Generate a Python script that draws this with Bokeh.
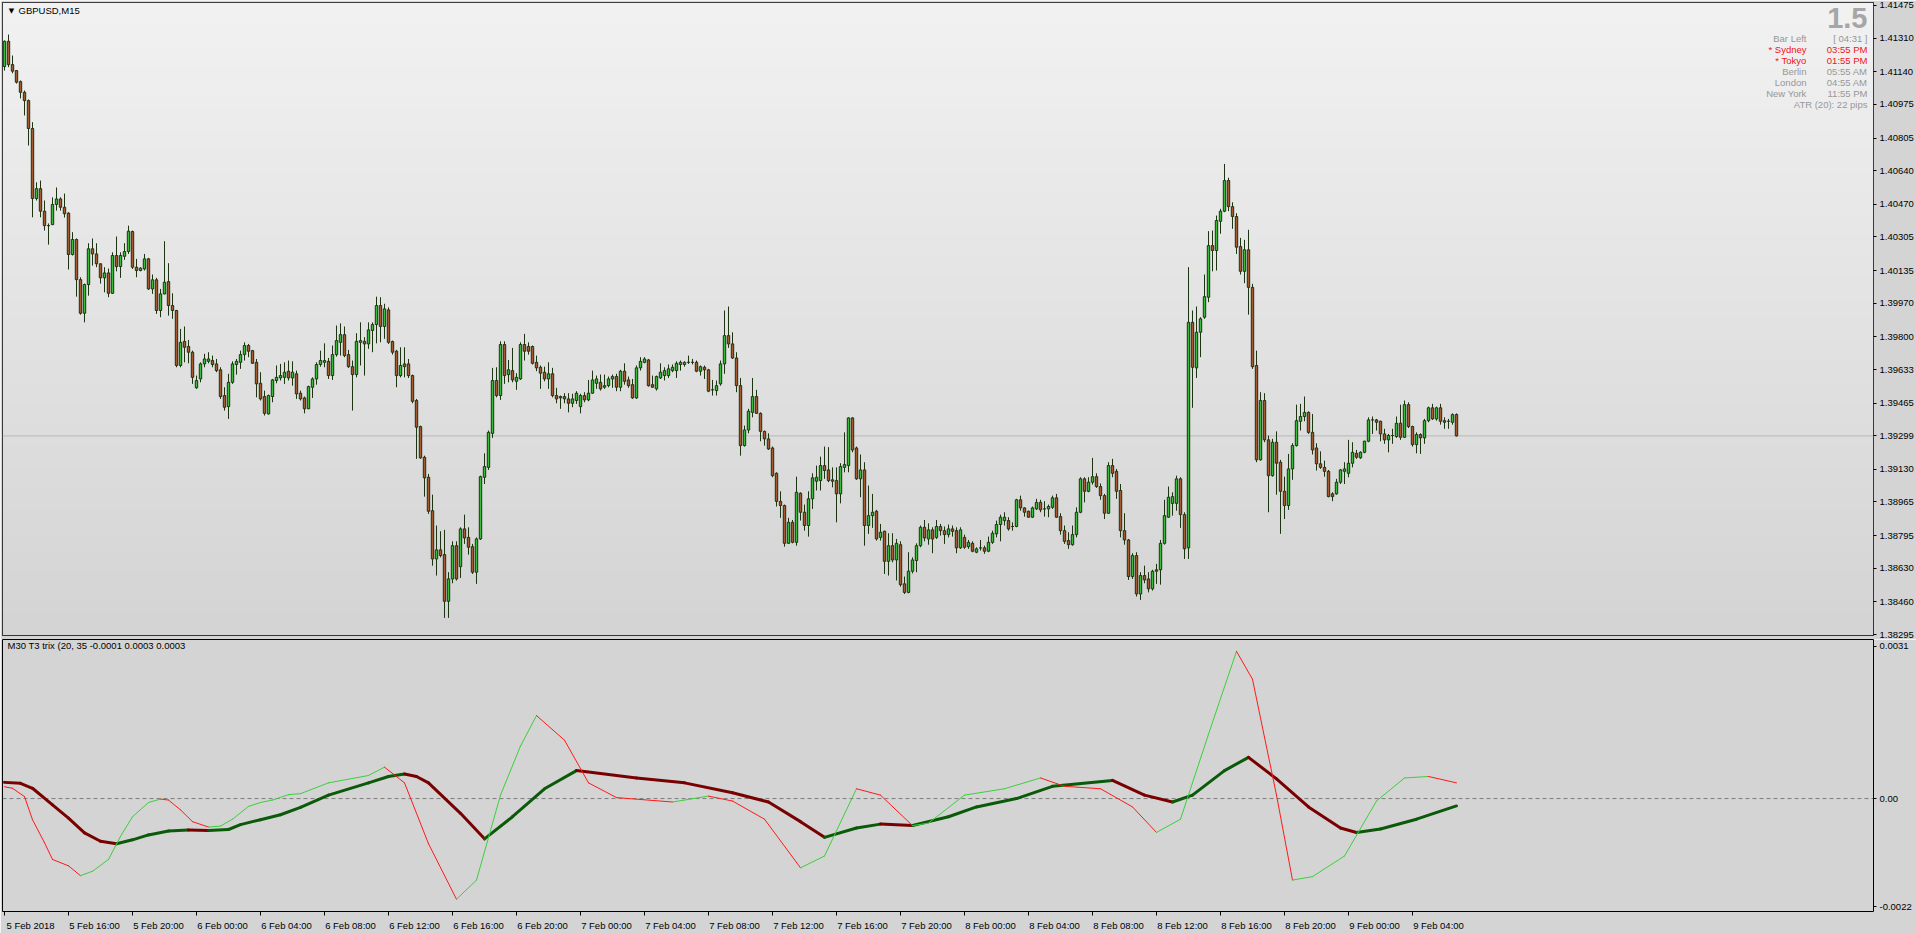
import numpy as np
from bokeh.plotting import figure
from bokeh.layouts import column
from bokeh.models import (LinearAxis, FixedTicker, Span, Label, ColumnDataSource,
                          Range1d, PrintfTickFormatter)
from bokeh.embed import file_html
from bokeh.resources import INLINE

# ---------------- texts ----------------
symbol_title = "GBPUSD,M15"
indicator_title = "M30 T3 trix (20, 35 -0.0001 0.0003 0.0003"
big_number = "1.5"
info_names = ["Bar Left", "* Sydney", "* Tokyo", "Berlin", "London", "New York"]
info_values = ["[ 04:31 ]", "03:55 PM", "01:55 PM", "05:55 AM", "04:55 AM", "11:55 PM"]
info_is_red = [False, True, True, False, False, False]
atr_text = "ATR (20): 22 pips"

time_tick_bars = [0, 16, 32, 48, 64, 80, 96, 112, 128, 144, 160, 176, 192, 208, 224,
                  240, 256, 272, 288, 304, 320, 336, 352]
time_tick_labels = ["5 Feb 2018", "5 Feb 16:00", "5 Feb 20:00", "6 Feb 00:00", "6 Feb 04:00",
                    "6 Feb 08:00", "6 Feb 12:00", "6 Feb 16:00", "6 Feb 20:00", "7 Feb 00:00",
                    "7 Feb 04:00", "7 Feb 08:00", "7 Feb 12:00", "7 Feb 16:00", "7 Feb 20:00",
                    "8 Feb 00:00", "8 Feb 04:00", "8 Feb 08:00", "8 Feb 12:00", "8 Feb 16:00",
                    "8 Feb 20:00", "9 Feb 00:00", "9 Feb 04:00"]
price_tick_labels = ["1.41475", "1.41310", "1.41140", "1.40975", "1.40805", "1.40640", "1.40470",
                     "1.40305", "1.40135", "1.39970", "1.39800", "1.39633", "1.39465", "1.39130",
                     "1.38965", "1.38795", "1.38630", "1.38460", "1.38295"]
trix_tick_values = [0.0031, 0.0, -0.0022]
trix_tick_labels = ["0.0031", "0.00", "-0.0022"]

# ---------------- candle data: price in pips above 1.38000 ----------------
PRICE_BASE = 1.38
open_pips = [
    316.6, 329.4, 317.6, 314.6, 309.0, 303.6, 299.4, 285.3, 249.9, 254.9,
    243.5, 236.2, 236.7, 246.9, 249.7, 245.5, 242.5, 221.6, 229.2, 208.9,
    191.9, 206.4, 224.5, 221.9, 216.9, 209.8, 212.3, 202.0, 221.1, 215.5,
    220.7, 223.1, 233.2, 215.2, 213.5, 214.3, 219.4, 204.2, 208.8, 193.3,
    201.7, 207.9, 195.8, 193.3, 165.5, 177.7, 175.1, 172.2, 154.2, 158.7,
    166.3, 167.6, 168.0, 166.3, 163.3, 150.3, 144.7, 157.0, 166.0, 167.1,
    171.0, 175.6, 173.0, 167.1, 156.5, 149.8, 141.0, 149.8, 157.9, 159.2,
    159.5, 162.6, 159.2, 161.3, 151.5, 149.1, 143.6, 154.5, 158.7, 166.0,
    167.1, 167.6, 160.4, 171.0, 177.2, 181.1, 171.0, 164.9, 160.9, 177.2,
    177.7, 176.4, 183.2, 186.2, 195.8, 185.2, 193.6, 177.6, 172.7, 160.4,
    166.3, 166.3, 160.4, 147.8, 134.6, 119.1, 109.0, 92.1, 67.7, 72.3,
    69.9, 46.3, 57.6, 74.4, 63.8, 82.9, 78.6, 73.9, 61.0, 77.8,
    109.0, 114.0, 131.2, 157.9, 150.3, 176.1, 160.9, 162.9, 157.5, 158.7,
    176.1, 175.1, 175.1, 167.1, 164.6, 162.1, 158.7, 161.3, 150.3, 149.8,
    149.8, 148.6, 146.4, 147.8, 144.7, 150.3, 148.1, 151.5, 156.5, 157.0,
    154.5, 155.3, 158.7, 159.9, 154.5, 162.6, 158.2, 155.8, 149.1, 164.3,
    167.1, 168.3, 155.8, 153.7, 159.2, 160.4, 160.4, 162.9, 162.9, 166.0,
    166.0, 167.1, 167.1, 167.1, 162.6, 164.6, 163.3, 153.2, 152.8, 156.2,
    166.3, 180.6, 176.4, 169.3, 155.3, 125.0, 132.9, 141.8, 149.8, 141.3,
    132.2, 128.4, 123.8, 111.0, 96.8, 94.7, 75.6, 86.2, 76.1, 100.9,
    91.3, 84.6, 98.1, 107.0, 107.3, 114.9, 112.7, 107.7, 107.3, 100.6,
    114.0, 114.9, 139.0, 123.8, 108.2, 112.7, 84.6, 89.6, 91.8, 78.6,
    81.7, 66.5, 74.4, 67.2, 74.9, 55.1, 50.8, 61.5, 66.9, 74.4,
    83.7, 77.8, 82.4, 78.6, 84.1, 82.0, 80.0, 82.9, 82.0, 73.3,
    78.6, 73.9, 75.6, 71.1, 73.3, 73.3, 71.6, 76.1, 80.4, 85.1,
    87.1, 87.1, 84.1, 84.1, 97.6, 93.5, 91.8, 88.8, 93.0, 96.3,
    93.0, 93.0, 93.8, 98.6, 89.1, 82.0, 77.0, 74.9, 80.0, 91.3,
    108.2, 101.9, 106.5, 109.3, 104.3, 99.7, 90.8, 114.9, 112.0, 102.3,
    82.0, 77.3, 58.8, 69.4, 50.0, 59.3, 57.6, 52.6, 62.2, 62.2,
    75.6, 88.8, 95.8, 95.8, 108.2, 90.1, 73.3, 187.3, 164.3, 182.3,
    189.9, 200.0, 226.1, 223.6, 238.4, 243.5, 259.0, 245.8, 240.8, 225.6,
    213.1, 224.0, 205.0, 165.5, 117.8, 147.8, 127.9, 109.8, 126.7, 116.6,
    101.9, 94.7, 113.2, 125.0, 137.3, 139.7, 141.8, 131.7, 123.8, 115.8,
    114.0, 112.0, 100.6, 100.6, 106.5, 112.0, 111.0, 116.1, 121.1, 118.8,
    121.6, 127.2, 138.0, 138.0, 137.3, 130.9, 127.9, 130.1, 129.6, 136.3,
    129.2, 145.7, 134.6, 125.5, 130.6, 128.9, 137.6, 144.1, 138.5, 144.1,
    137.6, 137.3, 136.8, 140.7]
high_pips = [
    329.8, 332.8, 322.2, 314.6, 309.6, 304.5, 300.0, 288.5, 258.1, 259.0,
    248.9, 237.3, 250.5, 255.5, 250.5, 252.4, 243.0, 232.9, 229.7, 210.1,
    206.9, 227.3, 229.7, 227.3, 217.0, 215.2, 214.5, 222.7, 230.7, 222.7,
    227.3, 236.2, 233.7, 219.4, 215.2, 221.9, 219.9, 211.5, 209.8, 204.2,
    228.3, 217.2, 202.0, 193.6, 184.0, 185.2, 178.4, 173.0, 160.4, 167.1,
    171.4, 172.2, 170.5, 168.8, 164.6, 154.5, 161.3, 167.6, 168.8, 173.0,
    177.2, 176.4, 173.4, 168.8, 162.1, 152.8, 150.8, 158.7, 165.5, 166.3,
    167.1, 168.0, 167.6, 162.9, 152.8, 149.8, 155.3, 159.5, 167.1, 173.0,
    176.7, 169.3, 175.6, 185.7, 186.8, 185.2, 173.4, 168.0, 181.8, 187.3,
    179.8, 187.3, 187.3, 200.3, 200.0, 196.7, 194.9, 178.1, 173.4, 174.7,
    174.7, 168.8, 160.9, 148.6, 135.1, 119.9, 110.7, 100.2, 84.6, 81.7,
    82.4, 61.0, 76.6, 76.6, 83.7, 90.1, 83.7, 75.3, 78.6, 109.8,
    121.1, 132.6, 164.3, 164.6, 177.7, 177.7, 168.3, 174.4, 161.6, 177.2,
    181.5, 177.2, 175.6, 170.5, 165.5, 164.9, 167.1, 164.3, 154.2, 150.3,
    151.5, 151.5, 151.2, 152.5, 151.2, 152.0, 158.2, 162.9, 160.4, 160.9,
    160.9, 159.9, 160.9, 161.3, 163.3, 166.6, 159.9, 158.7, 165.5, 169.7,
    169.7, 168.8, 160.4, 160.4, 166.6, 164.6, 166.0, 166.0, 167.6, 168.0,
    167.6, 170.5, 168.8, 168.0, 165.5, 165.5, 163.8, 158.2, 157.9, 168.0,
    193.3, 195.3, 182.3, 172.2, 159.2, 135.1, 143.6, 159.2, 153.2, 141.8,
    132.6, 131.2, 124.5, 111.5, 101.9, 95.2, 88.5, 87.4, 109.3, 101.4,
    95.2, 101.9, 111.0, 114.9, 119.4, 124.5, 124.2, 114.0, 114.0, 116.1,
    131.7, 139.3, 139.3, 124.5, 120.5, 116.6, 104.8, 100.6, 92.5, 85.4,
    82.0, 80.7, 80.7, 77.8, 76.6, 58.8, 71.1, 68.5, 75.6, 84.6,
    87.4, 85.7, 83.7, 87.4, 85.4, 84.1, 85.1, 84.6, 83.7, 83.7,
    80.0, 77.3, 76.6, 73.6, 77.3, 74.4, 79.0, 82.0, 87.1, 90.1,
    91.3, 88.8, 86.2, 98.1, 99.7, 93.8, 92.1, 94.2, 98.1, 97.6,
    96.9, 95.2, 99.7, 100.6, 90.8, 84.6, 81.2, 84.6, 93.8, 109.0,
    109.0, 109.0, 118.8, 111.0, 105.9, 100.6, 116.6, 118.3, 113.2, 105.6,
    90.8, 77.8, 70.6, 71.1, 61.0, 64.3, 61.0, 62.2, 65.2, 77.3,
    97.6, 104.3, 101.4, 109.8, 109.0, 91.3, 215.2, 193.3, 195.3, 189.9,
    211.5, 233.4, 233.7, 241.3, 244.7, 267.4, 260.4, 248.0, 242.5, 230.0,
    229.0, 234.1, 206.8, 173.0, 152.0, 151.5, 130.1, 128.4, 132.2, 117.8,
    109.3, 120.8, 126.2, 145.7, 146.1, 149.8, 142.3, 141.0, 126.2, 122.1,
    117.4, 112.7, 101.4, 108.2, 113.2, 116.6, 127.9, 126.7, 122.8, 122.1,
    127.5, 139.3, 139.7, 138.5, 137.6, 133.5, 130.9, 133.5, 139.7, 145.7,
    147.8, 146.9, 135.1, 131.7, 131.2, 138.5, 144.7, 146.1, 144.7, 146.1,
    139.3, 138.5, 141.3, 141.3]
low_pips = [
    314.6, 316.3, 313.2, 308.0, 300.5, 291.9, 276.7, 240.4, 248.9, 240.4,
    233.7, 226.6, 236.7, 243.8, 243.8, 240.3, 214.0, 221.1, 200.3, 191.2,
    187.3, 200.8, 216.0, 215.2, 206.9, 202.5, 200.0, 201.7, 213.1, 209.8,
    218.9, 221.9, 214.3, 210.1, 213.1, 213.5, 203.7, 201.7, 191.6, 189.9,
    201.4, 190.7, 189.1, 164.6, 164.6, 167.1, 166.6, 156.2, 153.7, 157.0,
    164.6, 166.6, 164.6, 162.1, 148.6, 142.7, 138.5, 156.2, 160.9, 163.8,
    168.0, 169.7, 166.3, 149.4, 147.8, 140.2, 140.7, 146.9, 156.5, 157.9,
    156.2, 157.9, 155.3, 148.6, 147.8, 141.3, 143.6, 149.1, 155.8, 164.9,
    164.6, 158.7, 158.2, 170.0, 170.5, 169.7, 164.3, 142.7, 159.5, 165.5,
    160.4, 173.9, 172.2, 176.7, 177.2, 179.0, 176.4, 171.0, 154.5, 159.5,
    159.5, 159.2, 146.4, 118.3, 118.3, 99.2, 90.5, 64.3, 59.3, 68.5,
    37.9, 37.9, 55.4, 56.8, 58.1, 75.3, 69.9, 60.1, 55.1, 77.3,
    105.6, 112.7, 128.9, 149.4, 148.1, 156.2, 157.0, 157.0, 153.2, 158.2,
    168.0, 171.0, 166.0, 162.6, 153.7, 157.5, 153.7, 149.4, 146.4, 143.6,
    146.4, 141.8, 144.4, 146.1, 141.3, 146.9, 147.4, 151.2, 153.7, 152.8,
    153.7, 154.5, 154.2, 152.5, 152.5, 155.8, 154.2, 148.6, 148.6, 162.9,
    166.6, 154.8, 154.2, 152.8, 158.7, 157.9, 159.2, 162.1, 159.2, 162.9,
    164.9, 166.3, 166.0, 162.1, 160.4, 158.7, 152.0, 150.3, 150.3, 155.3,
    161.3, 174.4, 168.8, 152.0, 119.9, 124.5, 131.2, 139.3, 141.0, 127.2,
    125.0, 122.8, 109.0, 94.2, 88.5, 73.9, 75.3, 75.6, 74.4, 87.1,
    82.0, 79.0, 93.0, 102.3, 102.3, 108.2, 106.5, 103.9, 86.2, 95.8,
    111.5, 111.5, 121.6, 107.7, 98.9, 74.4, 80.4, 83.4, 77.0, 77.0,
    60.1, 59.3, 66.0, 56.8, 53.7, 50.0, 50.3, 60.4, 61.0, 73.6,
    76.6, 74.9, 70.6, 77.8, 79.5, 75.3, 78.6, 79.0, 70.6, 72.8,
    72.8, 72.8, 71.1, 70.6, 71.9, 70.3, 71.1, 75.3, 78.6, 76.6,
    84.6, 82.0, 82.0, 83.7, 92.1, 89.1, 88.5, 88.5, 92.5, 91.3,
    89.1, 88.8, 93.0, 88.5, 80.0, 75.3, 72.8, 74.4, 78.6, 90.8,
    96.3, 101.4, 105.3, 103.6, 97.6, 87.9, 90.5, 109.0, 98.1, 78.6,
    74.9, 57.1, 57.6, 48.7, 47.0, 55.4, 50.8, 51.7, 55.1, 54.7,
    74.9, 88.5, 89.6, 92.1, 83.4, 67.7, 67.7, 144.1, 159.2, 169.7,
    189.1, 197.5, 213.1, 213.5, 232.1, 243.0, 243.5, 234.6, 221.9, 211.5,
    207.1, 191.2, 163.8, 116.6, 117.4, 126.7, 91.3, 109.3, 100.2, 80.4,
    87.9, 92.5, 107.7, 124.5, 132.6, 137.3, 130.9, 120.5, 112.4, 113.2,
    109.3, 98.9, 96.9, 100.2, 105.6, 105.6, 109.0, 114.0, 118.3, 118.3,
    121.1, 126.7, 130.9, 132.6, 127.2, 125.9, 121.6, 125.9, 128.9, 127.9,
    128.9, 133.9, 124.5, 121.1, 120.8, 125.9, 136.8, 138.0, 137.6, 135.6,
    133.5, 133.5, 135.6, 129.6]
close_pips = [
    329.4, 317.6, 314.3, 308.7, 303.6, 299.4, 285.3, 249.9, 254.9, 243.5,
    236.2, 236.2, 246.9, 249.7, 245.5, 242.2, 221.6, 229.2, 208.9, 191.9,
    206.4, 224.5, 221.9, 216.9, 209.8, 212.3, 202.0, 221.1, 215.5, 221.1,
    223.1, 233.4, 215.2, 213.5, 214.7, 219.4, 204.2, 208.8, 193.3, 201.7,
    207.6, 195.8, 193.3, 165.5, 177.2, 174.7, 172.2, 159.5, 157.9, 166.3,
    168.8, 168.8, 166.0, 162.9, 149.8, 144.4, 157.0, 166.3, 167.6, 171.0,
    175.6, 172.7, 166.6, 156.2, 148.6, 141.3, 150.3, 158.2, 159.5, 160.4,
    162.1, 159.2, 162.1, 151.1, 148.6, 143.6, 154.8, 158.7, 166.0, 168.0,
    168.0, 160.4, 171.0, 178.1, 181.1, 170.5, 164.9, 160.9, 177.7, 178.1,
    176.4, 183.5, 186.2, 195.8, 185.2, 194.1, 177.2, 172.2, 160.4, 165.5,
    164.9, 160.4, 147.4, 134.3, 118.8, 108.7, 91.8, 67.7, 72.3, 69.4,
    46.3, 57.6, 74.4, 57.6, 82.9, 78.3, 73.6, 61.0, 77.8, 109.3,
    114.4, 131.7, 157.9, 150.3, 176.1, 160.4, 163.3, 158.2, 159.5, 176.1,
    172.7, 172.7, 166.6, 164.3, 161.6, 158.7, 161.3, 150.3, 148.6, 149.1,
    148.6, 146.4, 148.6, 151.5, 150.3, 148.1, 151.5, 158.2, 158.7, 153.7,
    155.3, 158.7, 159.9, 154.5, 162.6, 157.5, 155.3, 149.1, 164.3, 167.6,
    168.8, 155.3, 154.5, 159.9, 162.1, 162.9, 163.8, 164.6, 166.6, 167.1,
    167.1, 167.1, 167.1, 162.6, 164.9, 163.3, 152.5, 153.2, 155.3, 166.3,
    180.6, 176.4, 169.3, 155.3, 125.0, 132.9, 142.4, 149.8, 141.3, 132.2,
    128.4, 123.3, 109.8, 96.8, 94.7, 75.6, 86.2, 76.1, 101.4, 91.3,
    84.6, 98.1, 108.7, 109.0, 114.9, 112.4, 107.3, 107.0, 100.6, 114.4,
    115.4, 139.0, 122.8, 108.2, 112.7, 84.6, 89.6, 91.3, 77.8, 81.2,
    66.5, 74.4, 67.2, 75.6, 54.7, 50.8, 61.5, 67.2, 74.4, 83.7,
    78.3, 82.4, 77.8, 84.1, 82.0, 80.0, 82.9, 81.7, 73.3, 82.4,
    73.6, 76.1, 71.6, 72.8, 73.3, 71.6, 76.1, 80.7, 85.1, 88.8,
    88.8, 82.9, 84.1, 97.6, 93.5, 91.3, 88.8, 93.5, 96.3, 92.5,
    93.0, 94.2, 98.6, 88.8, 82.0, 76.6, 74.9, 80.0, 91.3, 108.2,
    101.9, 106.5, 109.3, 104.3, 99.7, 90.8, 114.9, 111.0, 101.9, 82.0,
    77.3, 58.8, 69.4, 50.0, 59.3, 57.1, 52.6, 61.5, 61.5, 75.6,
    89.6, 98.9, 99.2, 108.2, 90.1, 72.8, 187.3, 164.6, 182.3, 189.1,
    200.3, 226.1, 223.6, 238.8, 243.5, 259.0, 245.8, 240.8, 225.3, 213.1,
    224.0, 205.0, 164.9, 117.8, 147.8, 127.9, 109.8, 126.7, 116.1, 101.9,
    94.7, 113.2, 125.0, 137.6, 139.7, 141.8, 131.7, 122.8, 115.8, 114.0,
    112.0, 99.2, 99.2, 106.5, 112.7, 113.2, 116.1, 121.6, 119.1, 121.6,
    127.2, 138.0, 138.0, 136.8, 130.9, 127.9, 130.1, 130.1, 136.3, 129.2,
    145.7, 134.6, 125.5, 130.6, 128.9, 137.6, 144.1, 138.5, 144.1, 137.3,
    136.8, 137.3, 140.7, 129.9]

# ---------------- indicator data (units of 0.0001) ----------------
trix_fast_bars = [0, 2, 5, 7, 10, 12, 16, 19, 22, 26, 29, 32, 36, 39, 41, 44, 47, 51, 54, 57,
                  61, 64, 67, 71, 74, 81, 91, 95, 100, 106, 113, 118, 124, 129, 133, 140, 146, 153, 167, 176,
                  182, 190, 199, 205, 213, 219, 227, 231, 240, 250, 259, 265, 274, 282, 288, 294, 301, 308, 312, 318,
                  322, 327, 335, 343, 350, 356, 363]
trix_fast_e4 = [2.4, 2.1, 0.4, -4.3, -9.0, -12.4, -13.7, -15.7, -14.8, -12.4,
                -7.7, -3.7, -0.8, -0.1, -0.3, -2.3, -4.7, -5.8, -5.6, -4.2,
                -1.6, -0.8, -0.3, 0.8, 1.0, 3.2, 4.7, 6.4, 3.2, -9.2,
                -20.5, -16.6, 0.7, 10.7, 16.9, 11.9, 3.2, 0.2, -0.7, 0.5,
                -0.5, -4.2, -14.1, -11.7, 2.0, 0.7, -5.5, -5.0, 0.7, 2.0,
                4.2, 2.5, 2.0, -1.7, -6.9, -4.2, 13.1, 30.0, 24.3, 0.7,
                -16.6, -15.9, -11.7, -0.5, 4.2, 4.5, 3.2]
trix_slow_bars = [0, 4, 7, 12, 16, 20, 24, 28, 32, 36, 41, 46, 51, 56, 59, 64, 69, 74, 81, 91,
                  96, 100, 103, 106, 114, 120, 127, 135, 143, 158, 170, 182, 191, 199, 205, 213, 219, 227, 236, 243,
                  253, 262, 277, 285, 292, 297, 305, 311, 318, 326, 334, 338, 344, 353, 363]
trix_slow_e4 = [3.3, 3.1, 2.1, -1.3, -4.0, -7.0, -8.7, -9.2, -8.4, -7.4,
                -6.6, -6.4, -6.5, -6.3, -5.3, -4.3, -3.3, -1.8, 0.7, 3.2,
                4.5, 5.0, 4.5, 3.2, -3.0, -8.2, -3.7, 2.0, 5.7, 4.2,
                3.2, 1.2, -0.7, -4.7, -7.9, -6.0, -5.2, -5.5, -3.7, -1.7,
                0.0, 2.5, 3.7, 0.7, -0.7, 0.7, 5.7, 8.4, 4.0, -1.7,
                -6.0, -6.9, -6.2, -4.2, -1.5]

# ---------------- styling / layout ----------------
FONT = "Liberation Sans"
FS = "9.5px"
BG = "#d4d4d4"
BULL = "#3cba3c"
BEAR = "#a45a32"
OUTLINE = "#1c3412"
W = 1916
LEFT = 2
RIGHT = 43
H1 = 639
H1_TOP, H1_BOT = 2, 4
H2 = 294
H2_TOP, H2_BOT = 0, 21
FRAME_W = W - LEFT - RIGHT
FRAME_H1 = H1 - H1_TOP - H1_BOT
FRAME_H2 = H2 - H2_TOP - H2_BOT

xr = Range1d(-0.5, -0.5 + FRAME_W / 4.0)
PY0, PY1 = 1.38290, 1.41490
TY0, TY1 = -0.00230, 0.00324


def fx(px):
    return xr.start + px * (xr.end - xr.start) / FRAME_W


def fxr(px):
    return xr.end - px * (xr.end - xr.start) / FRAME_W


def fy1(px):
    return PY1 - px * (PY1 - PY0) / FRAME_H1


def fy2(px):
    return TY1 - px * (TY1 - TY0) / FRAME_H2


def style_axis(ax):
    ax.axis_line_color = None
    ax.major_tick_in = 0
    ax.major_tick_out = 3
    ax.minor_tick_in = 0
    ax.minor_tick_out = 0
    ax.major_tick_line_color = "black"
    ax.major_label_text_font = FONT
    ax.major_label_text_font_size = FS
    ax.major_label_text_color = "black"
    ax.major_label_standoff = 3


# ---------------- main price pane ----------------
n = len(close_pips)
bars = list(range(n))
o = [PRICE_BASE + v / 1e4 for v in open_pips]
h = [PRICE_BASE + v / 1e4 for v in high_pips]
l = [PRICE_BASE + v / 1e4 for v in low_pips]
c = [PRICE_BASE + v / 1e4 for v in close_pips]
src = ColumnDataSource(dict(
    x=bars, h=h, l=l,
    top=[max(a, b) for a, b in zip(o, c)],
    bottom=[min(a, b) for a, b in zip(o, c)],
    fill=[BEAR if cc < oo else BULL for oo, cc in zip(o, c)],
))

p1 = figure(width=W, height=H1, x_range=xr, y_range=Range1d(PY0, PY1),
            output_backend="svg", toolbar_location=None,
            x_axis_type=None, y_axis_type=None,
            min_border_left=LEFT, min_border_right=RIGHT,
            min_border_top=H1_TOP, min_border_bottom=H1_BOT,
            outline_line_color="black", outline_line_width=1,
            background_fill_color="#e0e0e0", border_fill_color=BG)
p1.grid.visible = False

# vertical gradient background of the price pane
NG = 256
grad = np.zeros((NG, 1), dtype=np.uint32)
gv = grad.view(dtype=np.uint8).reshape((NG, 1, 4))
shade = (212 + (242 - 212) * np.linspace(0.0, 1.0, NG)).astype(np.uint8)
gv[:, 0, 0] = shade
gv[:, 0, 1] = shade
gv[:, 0, 2] = shade
gv[:, 0, 3] = 255
img = p1.image_rgba(image=[grad], x=xr.start, y=PY0, dw=xr.end - xr.start, dh=PY1 - PY0)
img.level = "image"

last_close = c[-1]
p1.add_layout(Span(location=last_close, dimension="width", line_color="#b9b9b9",
                   line_width=1, level="underlay"))

p1.segment(x0="x", y0="h", x1="x", y1="l", line_color=OUTLINE, line_width=1, source=src)
p1.vbar(x="x", width=0.6, top="top", bottom="bottom", fill_color="fill",
        line_color=OUTLINE, line_width=1, source=src)

# price scale, including the current bid level
pax = LinearAxis(ticker=FixedTicker(ticks=[float(s) for s in price_tick_labels] + [last_close]),
                 formatter=PrintfTickFormatter(format="%.5f"))
style_axis(pax)
p1.add_layout(pax, "right")

p1.add_layout(Label(x=fx(9), y=fy1(8), text="\u25bc", text_align="center",
                    text_baseline="middle", text_font="DejaVu Sans", text_font_size="7px",
                    text_color="black"))
p1.add_layout(Label(x=fx(16), y=fy1(8), text=symbol_title, text_align="left",
                    text_baseline="middle", text_font=FONT, text_font_size=FS,
                    text_color="black"))

p1.add_layout(Label(x=fxr(6), y=fy1(15), text=big_number, text_align="right",
                    text_baseline="middle", text_font=FONT, text_font_size="29px",
                    text_font_style="bold", text_color="#a6a6a6"))
GRAY = "#979797"
RED = "#f01414"
for i, (nm, vl, red) in enumerate(zip(info_names, info_values, info_is_red)):
    col = RED if red else GRAY
    yy = fy1(36 + 11 * i)
    p1.add_layout(Label(x=fxr(67), y=yy, text=nm, text_align="right", text_baseline="middle",
                        text_font=FONT, text_font_size=FS, text_color=col))
    p1.add_layout(Label(x=fxr(6), y=yy, text=vl, text_align="right", text_baseline="middle",
                        text_font=FONT, text_font_size=FS, text_color=col))
p1.add_layout(Label(x=fxr(6), y=fy1(36 + 11 * 6), text=atr_text, text_align="right",
                    text_baseline="middle", text_font=FONT, text_font_size=FS, text_color=GRAY))

# ---------------- indicator pane ----------------
p2 = figure(width=W, height=H2, x_range=xr, y_range=Range1d(TY0, TY1),
            output_backend="svg", toolbar_location=None,
            x_axis_type=None, y_axis_type=None,
            min_border_left=LEFT, min_border_right=RIGHT,
            min_border_top=H2_TOP, min_border_bottom=H2_BOT,
            outline_line_color="black", outline_line_width=1,
            background_fill_color=BG, border_fill_color=BG)
p2.grid.visible = False
p2.add_layout(Span(location=0.0, dimension="width", line_color="#7c7c7c", line_width=1,
                   line_dash="4 3", level="underlay"))


def seg_source(xs, vals_e4, up_col, down_col):
    v = [q / 1e4 for q in vals_e4]
    cols = []
    prev = up_col
    for a, b in zip(v[:-1], v[1:]):
        if b > a:
            prev = up_col
        elif b < a:
            prev = down_col
        cols.append(prev)
    return ColumnDataSource(dict(x0=xs[:-1], y0=v[:-1], x1=xs[1:], y1=v[1:], col=cols))


fast_src = seg_source(trix_fast_bars, trix_fast_e4, "#3ccf3c", "#ff1a1a")
slow_src = seg_source(trix_slow_bars, trix_slow_e4, "#0a5a0a", "#780000")
p2.segment(x0="x0", y0="y0", x1="x1", y1="y1", line_color="col", line_width=3,
           line_cap="round", source=slow_src)
p2.segment(x0="x0", y0="y0", x1="x1", y1="y1", line_color="col", line_width=1,
           line_cap="round", source=fast_src)

tax = LinearAxis(ticker=FixedTicker(ticks=trix_tick_values),
                 major_label_overrides={v: s for v, s in zip(trix_tick_values, trix_tick_labels)})
style_axis(tax)
p2.add_layout(tax, "right")

# time axis: tick marks (minor ticks) at each labelled bar, labels start just right of them
LABEL_SHIFT = 6.5
shifted = [b + LABEL_SHIFT for b in time_tick_bars]
xlab_ax = LinearAxis(ticker=FixedTicker(ticks=shifted, minor_ticks=time_tick_bars),
                     major_label_overrides={s: t for s, t in zip(shifted, time_tick_labels)})
style_axis(xlab_ax)
xlab_ax.major_tick_out = 0
xlab_ax.minor_tick_out = 4
xlab_ax.minor_tick_line_color = "black"
xlab_ax.major_label_standoff = 4
p2.add_layout(xlab_ax, "below")

p2.add_layout(Label(x=fx(5), y=fy2(6), text=indicator_title, text_align="left",
                    text_baseline="middle", text_font=FONT, text_font_size=FS,
                    text_color="black"))

layout = column(p1, p2, spacing=0)
open("out.html", "w").write(file_html(layout, INLINE))
